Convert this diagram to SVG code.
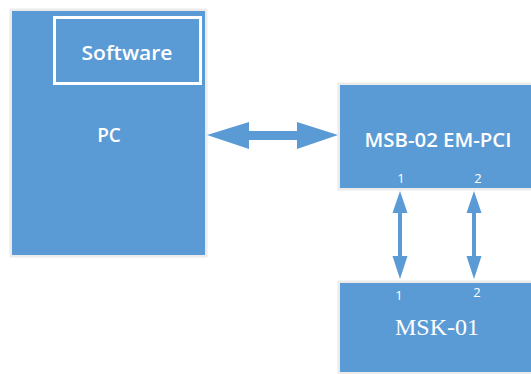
<svg xmlns="http://www.w3.org/2000/svg" width="531" height="374" viewBox="0 0 531 374">
<style>
.shadow{fill:#ebebeb}
.box{fill:#5b9bd5}
.lbl{fill:#ffffff;font-family:"Open Sans","Liberation Sans",sans-serif;font-weight:600}
.num{fill:#ffffff;font-family:"Open Sans","Liberation Sans",sans-serif;font-size:13px}
.serif{fill:#ffffff;font-family:"Liberation Serif",serif;font-size:24px}
.arrow{fill:#5b9bd5}
</style>
<rect width="531" height="374" fill="#ffffff"/>
<g id="pc">
<rect class="shadow" x="9.5" y="8.5" width="198" height="249"/>
<rect class="box" x="12" y="11" width="193" height="244"/>
<rect x="54.5" y="17.5" width="146" height="66" fill="none" stroke="#ffffff" stroke-width="3"/>
<text class="lbl" x="127" y="60" font-size="19" text-anchor="middle" textLength="91" lengthAdjust="spacingAndGlyphs">Software</text>
<text class="lbl" x="109" y="142" font-size="19" text-anchor="middle">PC</text>
</g>
<g id="msb">
<rect class="shadow" x="337.5" y="82.5" width="200" height="108"/>
<rect class="box" x="340" y="85" width="200" height="103"/>
<text class="lbl" x="438" y="147" font-size="19" text-anchor="middle" textLength="147" lengthAdjust="spacingAndGlyphs">MSB-02 EM-PCI</text>
<text class="num" x="401" y="183" text-anchor="middle">1</text>
<text class="num" x="478" y="183" text-anchor="middle">2</text>
</g>
<g id="msk">
<rect class="shadow" x="337.5" y="280.5" width="200" height="96"/>
<rect class="box" x="340" y="283" width="200" height="89"/>
<text class="num" x="399" y="300" text-anchor="middle">1</text>
<text class="num" x="477" y="297" text-anchor="middle">2</text>
<text class="serif" x="437" y="335" text-anchor="middle">MSK-01</text>
</g>
<g id="connectors">
<polygon class="arrow" points="207,135 249,122 249,131 297,131 297,122 338,135 297,149 297,140 249,140 249,149"/>
<polygon class="arrow" points="400,191 407.5,213 402,213 402,256 407.5,256 400,279 392.5,256 398,256 398,213 392.5,213"/>
<polygon class="arrow" points="474,191 481.5,213 476,213 476,256 481.5,256 474,279 466.5,256 472,256 472,213 466.5,213"/>
</g>
</svg>
